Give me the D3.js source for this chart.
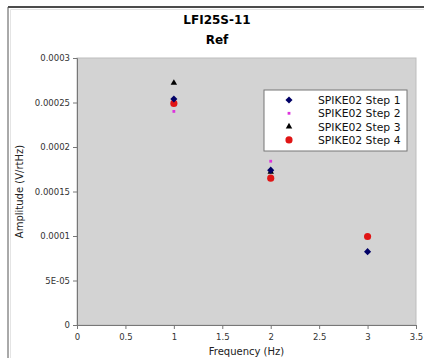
<!DOCTYPE html>
<html>
<head>
<meta charset="utf-8">
<script src="https://cdn.jsdelivr.net/npm/d3@7"></script>
<style>
  body { margin: 0; background: #fff; }
  svg { display: block; font-family: "DejaVu Sans", sans-serif; }
</style>
</head>
<body>
<div id="plot"></div>
<script>
// frequencies and amplitudes
const freqs = [1, 2, 3];
const step1 = [0.000254, 0.000174, 0.0000824];
const step2 = [0.000240, 0.000184, null];
const step3 = [0.000272, 0.000172, null];
const step4 = [0.000249, 0.000165, 0.0000995];
const seriesNames = ["SPIKE02 Step 1", "SPIKE02 Step 2", "SPIKE02 Step 3", "SPIKE02 Step 4"];
const xTicks = [0, 0.5, 1, 1.5, 2, 2.5, 3, 3.5];
const yTicks = [0, 0.00005, 0.0001, 0.00015, 0.0002, 0.00025, 0.0003];
const yTickLabels = ["0", "5E-05", "0.0001", "0.00015", "0.0002", "0.00025", "0.0003"];

const W = 424, H = 358;
const margin = { top: 58, right: 8, bottom: 33, left: 77 },
      width = W - margin.left - margin.right,
      height = H - margin.top - margin.bottom;

const svg = d3.select("div#plot").append("svg")
    .attr("width", W)
    .attr("height", H);

// outer frame
svg.append("line").attr("x1", 8).attr("x2", W).attr("y1", 7).attr("y2", 7)
    .attr("stroke", "#111").attr("stroke-width", 1.5);
svg.append("line").attr("x1", 8).attr("x2", 8).attr("y1", 7).attr("y2", H)
    .attr("stroke", "#555").attr("stroke-width", 1);
svg.append("path").attr("d", `M10.5,${H}V9.5H${W}`)
    .attr("fill", "none").attr("stroke", "#e4e4e4");

const g = svg.append("g")
    .attr("transform", "translate(" + margin.left + "," + margin.top + ")");

const x = d3.scaleLinear().domain([0, 3.5]).range([0, width]);
const y = d3.scaleLinear().domain([0, 0.0003]).range([height, 0]);

g.append("rect")
    .attr("width", width).attr("height", height)
    .attr("fill", "#d3d3d3")
    .attr("stroke", "#bdbdbd");

const xAxis = g.append("g")
    .attr("transform", `translate(0,${height})`)
    .call(d3.axisBottom(x).tickValues(xTicks).tickFormat(d3.format("")).tickSizeOuter(0).tickSize(4));
const yAxis = g.append("g")
    .call(d3.axisLeft(y).tickValues(yTicks).tickFormat((d, i) => yTickLabels[i]).tickSizeOuter(0).tickSize(4));

[xAxis, yAxis].forEach(a => {
  a.select(".domain").attr("stroke", "#777");
  a.selectAll(".tick line").attr("stroke", "#777");
  a.selectAll(".tick text").attr("fill", "#333").attr("font-size", 8.5)
    .attr("font-family", "DejaVu Sans, sans-serif");
});
xAxis.selectAll(".tick text").attr("dy", "0.9em");

// titles
svg.append("text").attr("x", 217).attr("y", 24).attr("text-anchor", "middle")
    .attr("font-size", 12).attr("font-weight", "bold").text("LFI25S-11");
svg.append("text").attr("x", 217).attr("y", 44).attr("text-anchor", "middle")
    .attr("font-size", 12).attr("font-weight", "bold").text("Ref");

svg.append("text")
    .attr("text-anchor", "middle")
    .attr("x", margin.left + width / 2)
    .attr("y", 355)
    .attr("font-size", 10).attr("fill", "#222")
    .text("Frequency (Hz)");

svg.append("text")
    .attr("text-anchor", "middle")
    .attr("transform", "translate(23," + (margin.top + height / 2) + ") rotate(-90)")
    .attr("font-size", 10).attr("fill", "#222")
    .text("Amplitude (V/rtHz)");

// markers
const styles = [
  { sym: d3.symbolDiamond2, size: 32, color: "#000066" },
  { sym: d3.symbolSquare2, size: 10, color: "#dd33dd" },
  { sym: d3.symbolTriangle2, size: 30, color: "#000000" },
  { sym: d3.symbolCircle, size: 40, color: "#e01515" }
];
const allSeries = [step1, step2, step3, step4];

// draw order so overlaps look like the picture
const order = [2, 3, 1, 0];
order.forEach(si => {
  const pts = freqs.map((f, i) => ({ f, v: allSeries[si][i] })).filter(d => d.v != null);
  g.selectAll(".s" + si)
    .data(pts)
    .enter().append("path")
    .attr("class", "s" + si)
    .attr("transform", d => `translate(${x(d.f)},${y(d.v)})`)
    .attr("d", d3.symbol().type(styles[si].sym).size(styles[si].size))
    .attr("fill", styles[si].color);
});

// legend
const lg = svg.append("g").attr("transform", "translate(264,90)");
lg.append("rect").attr("width", 143).attr("height", 61)
    .attr("fill", "#fff").attr("stroke", "#777");
seriesNames.forEach((name, i) => {
  const row = lg.append("g").attr("transform", `translate(0,${10 + i * 13.3})`);
  row.append("path")
    .attr("transform", "translate(25,0)")
    .attr("d", d3.symbol().type(styles[i].sym).size(styles[i].size))
    .attr("fill", styles[i].color);
  row.append("text").attr("x", 54).attr("y", 4)
    .attr("font-size", 10.8).attr("fill", "#111").text(name);
});
</script>
</body>
</html>
